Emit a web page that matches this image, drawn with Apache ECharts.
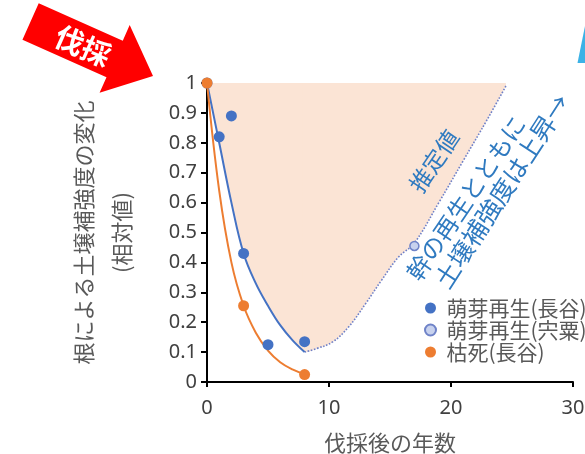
<!DOCTYPE html>
<html><head><meta charset="utf-8">
<script src="https://cdn.jsdelivr.net/npm/echarts@6/dist/echarts.min.js"></script>
<style>html,body{margin:0;padding:0;background:#fff}#c{width:585px;height:454px}</style>
</head><body><div id="c"></div>
<script>
// ---- data ----
const xTicks = [0, 10, 20, 30];
const yTicks = [0, 0.1, 0.2, 0.3, 0.4, 0.5, 0.6, 0.7, 0.8, 0.9, 1];
const legendNames = ['萌芽再生(長谷)', '萌芽再生(宍粟)', '枯死(長谷)'];

const sproutHaseX = [0, 1, 2, 3, 5, 8];
const sproutHaseY = [1, 0.82, 0.89, 0.43, 0.125, 0.135];
const sproutShisoX = [17];
const sproutShisoY = [0.455];
const deadHaseX = [0, 3, 8];
const deadHaseY = [1, 0.255, 0.025];

const fitYears = [0, 1, 2, 3, 4, 5, 6, 7, 8];
const sproutFit = [1.00, 0.80, 0.60, 0.43, 0.33, 0.255, 0.19, 0.14, 0.10];
const deadFit = [1.00, 0.64, 0.40, 0.255, 0.165, 0.105, 0.066, 0.042, 0.026];

// estimated recovery (dotted line); shaded region lies above it
const estYears = [8, 9, 10.3, 11.6, 13, 14.3, 15.7, 17, 19, 21, 23, 24.5];
const estValues = [0.10, 0.112, 0.134, 0.184, 0.262, 0.34, 0.418, 0.465, 0.60, 0.74, 0.88, 0.99];
// a point just before the vertex, read on the fitted curve, so the two shaded parts overlap
const shadeJoinYear = [7.85];
const shadeJoinValue = [0.106];

const xName = '伐採後の年数';
const yName = '根による土壌補強度の変化\n(相対値)';
const arrowLabel = '伐採';
const estLabel = '推定値';
const noteLine1 = '幹の再生とともに';
const noteLine2 = '土壌補強度は上昇→';

// ---- build ----
const zip = (a, b) => a.map((v, i) => [v, b[i]]);
const FONT = '"Noto Sans CJK JP", "Noto Sans", sans-serif';
const BLUE = '#4472c4', ORANGE = '#ed7d31', PEACH = '#fbe4d5', NOTE = '#2f7ac0';

function arrowPoints(tipX, tipY, angDeg, L, bh, hh, hl) {
  const a = angDeg * Math.PI / 180, ux = Math.cos(a), uy = Math.sin(a), vx = -uy, vy = ux;
  const tx = tipX - L * ux, ty = tipY - L * uy;
  const bx = tx + (L - hl) * ux, by = ty + (L - hl) * uy;
  return [
    [tx - bh * vx, ty - bh * vy], [bx - bh * vx, by - bh * vy], [bx - hh * vx, by - hh * vy],
    [tipX, tipY],
    [bx + hh * vx, by + hh * vy], [bx + bh * vx, by + bh * vy], [tx + bh * vx, ty + bh * vy]
  ];
}
const deg = d => d * Math.PI / 180;

const chart = echarts.init(document.getElementById('c'), null, {renderer: 'canvas'});
chart.setOption({
  animation: false,
  backgroundColor: '#fff',
  textStyle: {fontFamily: FONT},
  grid: {left: 207, right: 12, top: 83, bottom: 72, containLabel: false, outerBoundsMode: 'none'},
  legend: {
    data: legendNames, orient: 'vertical', left: 424, top: 297, padding: 0, itemGap: 0,
    itemWidth: 22, itemHeight: 11, icon: 'circle',
    textStyle: {fontSize: 21, color: '#595959', fontFamily: FONT, lineHeight: 22}
  },
  xAxis: {
    type: 'value', min: xTicks[0], max: xTicks[xTicks.length - 1], interval: xTicks[1] - xTicks[0],
    name: xName, nameLocation: 'middle', nameGap: 50,
    nameTextStyle: {fontSize: 22, color: '#595959', fontFamily: FONT},
    axisLine: {show: true, onZero: false, lineStyle: {color: '#000', width: 2}},
    axisTick: {show: true, inside: false, length: 5, lineStyle: {color: '#000', width: 2}},
    axisLabel: {fontSize: 20, color: '#404040', margin: 16, fontFamily: '"Noto Sans", sans-serif'},
    splitLine: {show: false}
  },
  yAxis: {
    type: 'value', min: yTicks[0], max: yTicks[yTicks.length - 1], interval: yTicks[1] - yTicks[0],
    name: yName, nameLocation: 'middle', nameRotate: 90, nameGap: 66,
    nameTextStyle: {fontSize: 22, color: '#595959', fontFamily: FONT, lineHeight: 38},
    axisLine: {show: true, onZero: false, lineStyle: {color: '#000', width: 2}},
    axisTick: {show: true, inside: false, length: 6, lineStyle: {color: '#000', width: 2}},
    axisLabel: {fontSize: 20, color: '#404040', margin: 10, fontFamily: '"Noto Sans", sans-serif'},
    splitLine: {show: false}
  },
  series: [
    {
      name: 'sproutShade', type: 'line', data: zip(fitYears, sproutFit), smooth: 0.4,
      showSymbol: false, clip: false, z: 1, silent: true,
      lineStyle: {width: 0, opacity: 0},
      areaStyle: {color: PEACH, opacity: 1, origin: 'end'}
    },
    {
      name: 'estimateShade', type: 'line',
      data: zip(shadeJoinYear, shadeJoinValue).concat(zip(estYears, estValues)), smooth: 0.4,
      showSymbol: false, clip: false, z: 1, silent: true,
      lineStyle: {width: 0, opacity: 0},
      areaStyle: {color: PEACH, opacity: 1, origin: 'end'}
    },
    {
      name: 'estimate', type: 'line', data: zip(estYears, estValues), smooth: 0.4,
      showSymbol: false, clip: false, z: 3, silent: true,
      lineStyle: {color: '#6f80c8', width: 1.6, type: [1.6, 1.6]}
    },
    {
      name: 'sproutFit', type: 'line', data: zip(fitYears, sproutFit), smooth: 0.4,
      showSymbol: false, clip: false, z: 3, silent: true,
      lineStyle: {color: BLUE, width: 2}
    },
    {
      name: 'deadFit', type: 'line', data: zip(fitYears, deadFit), smooth: 0.4,
      showSymbol: false, clip: false, z: 3, silent: true,
      lineStyle: {color: ORANGE, width: 2}
    },
    {
      name: legendNames[0], type: 'scatter', data: zip(sproutHaseX, sproutHaseY), symbolSize: 11, z: 5,
      itemStyle: {color: BLUE, opacity: 1}
    },
    {
      name: legendNames[1], type: 'scatter', data: zip(sproutShisoX, sproutShisoY), symbolSize: 9, z: 5,
      itemStyle: {color: '#c8d2ee', borderColor: '#6f83c8', borderWidth: 1.5, opacity: 1}
    },
    {
      name: legendNames[2], type: 'scatter', data: zip(deadHaseX, deadHaseY), symbolSize: 11, z: 6,
      itemStyle: {color: ORANGE, opacity: 1}
    }
  ],
  graphic: [
    {type: 'polygon', z: 100, shape: {points: arrowPoints(153, 76, 24, 134, 20, 37, 42)}, style: {fill: '#ff0000'}},
    {type: 'text', z: 101, x: 83, y: 46, rotation: deg(-24),
      style: {text: arrowLabel, fill: '#fff', font: 'bold 29px ' + FONT, align: 'center', verticalAlign: 'middle'}},
    {type: 'polygon', z: 100, shape: {points: [[585, 26], [585, 63], [577.5, 63]]}, style: {fill: '#3cb2e6'}},
    {type: 'text', z: 101, x: 434, y: 161, rotation: deg(56),
      style: {text: estLabel, fill: NOTE, font: '23px ' + FONT, align: 'center', verticalAlign: 'middle'}},
    {type: 'text', z: 101, x: 466, y: 198, rotation: deg(56),
      style: {text: noteLine1, fill: NOTE, font: '24px ' + FONT, align: 'center', verticalAlign: 'middle'}},
    {type: 'text', z: 101, x: 502, y: 191, rotation: deg(57),
      style: {text: noteLine2, fill: NOTE, font: '25px ' + FONT, align: 'center', verticalAlign: 'middle'}}
  ]
});
</script></body></html>
